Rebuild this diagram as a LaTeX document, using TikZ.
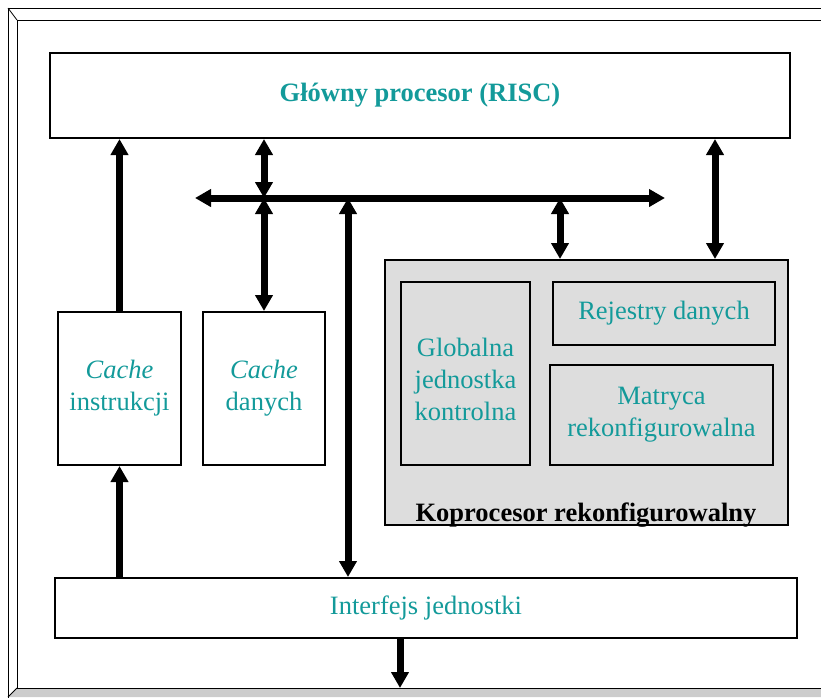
\documentclass[tikz,border=0pt]{standalone}
\usepackage{fontspec}
\setmainfont{Liberation Serif}
\usepackage{xcolor}
\usetikzlibrary{arrows.meta,positioning}
\definecolor{txtc}{HTML}{139A9A}
\definecolor{copbg}{HTML}{DDDDDD}
\definecolor{frmbg}{HTML}{CCCCCC}
\tikzset{
  txt/.style={align=center,inner sep=0pt,text=txtc,font=\fontsize{26.5}{32}\selectfont},
  blk/.style={txt,draw,line width=2pt},
  tip/.tip={Triangle[length=16pt,width=17pt]},
  bar/.style={line width=7pt,-tip},
  dbar/.style={line width=7pt,tip-tip}
}

\begin{document}
\begin{tikzpicture}[x=1pt,y=-1pt]
\useasboundingbox (0,0) rectangle (821,697);
% frame
\fill[frmbg] (17,688) -- (8,697) -- (830,697) -- (830,688) -- cycle;
\draw[line width=1pt] (8,710) -- (8,8) -- (830,8);
\draw[line width=1pt] (830,688) -- (17,688) -- (17,20) -- (830,20);
\draw[line width=0.8pt] (8,8) -- (17,20) (17,688) -- (8,697);
% blocks
\node[blk,minimum width=740,minimum height=85,font=\bfseries\fontsize{26.5}{32}\selectfont]
  (cpu) at (420,95.5) {Główny procesor (RISC)};
\node[blk,minimum width=123,minimum height=153] (ci) at (119.5,388.5) {\textit{Cache}\\instrukcji};
\node[blk,minimum width=122,minimum height=153] (cd) at (264,388.5) {\textit{Cache}\\danych};
\node[blk,fill=copbg,minimum width=403,minimum height=265] (cop) at (586.5,392.5) {};
\node[blk,minimum width=129,minimum height=183,
  label={[txt,yshift=-6pt]center:{Globalna\\jednostka\\kontrolna}}] (gjk) at (465.5,373.5) {};
\node[blk,minimum width=222,minimum height=63] (rd) at (664,313.5) {Rejestry danych};
\node[blk,minimum width=223,minimum height=100] (mr) at (661.5,415) {Matryca\\rekonfigurowalna};
\node[font=\bfseries\fontsize{26.5}{32}\selectfont,anchor=base] (lbl) at (586,521) {Koprocesor rekonfigurowalny};
\node[blk,minimum width=742,minimum height=60] (ifj) at (426,608) {Interfejs jednostki};
% bus
\coordinate (busL) at (195,198);
\coordinate (busR) at (665,198);
\coordinate (b1) at (348,198);
\coordinate (b2) at (560,198);
\coordinate (b3) at (715,198);
\coordinate (out) at (400,688);
\draw[dbar] (busL) -- (busR);
% connectors
\draw[bar] (ci.north) -- (ci.north |- cpu.south);
\draw[bar] (ci.south |- ifj.north) -- (ci.south);
\draw[dbar] (cd.north |- cpu.south) -- (cd.north |- busL);
\draw[dbar] (cd.north |- busL) -- (cd.north);
\draw[dbar] (b1 |- ifj.north) -- (b1);
\draw[dbar] (b2) -- (b2 |- cop.north);
\draw[dbar] (b3 |- cpu.south) -- (b3 |- cop.north);
\draw[bar] (out |- ifj.south) -- (out);
\end{tikzpicture}
\end{document}
